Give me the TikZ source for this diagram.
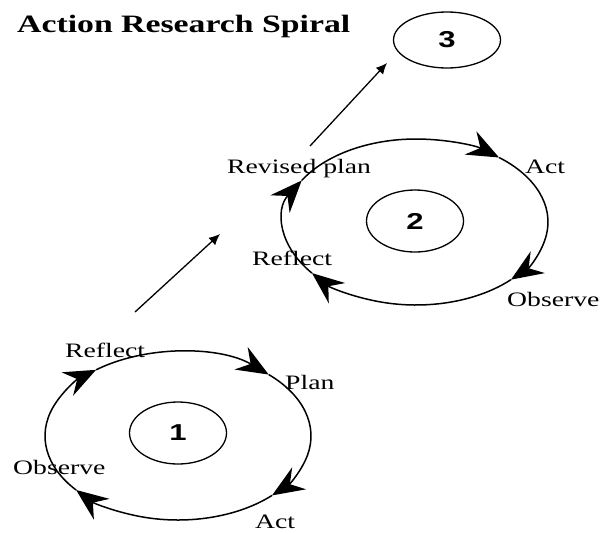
\documentclass[tikz,border=0pt]{standalone}
\usepackage{fontspec}
\usetikzlibrary{shapes.geometric,arrows.meta}
\newfontfamily\labfont{Liberation Serif}[FakeStretch=1.35]
\newfontfamily\digfont{Liberation Sans}[FakeStretch=1.35]
\tikzset{
  lbl/.style={anchor=base west,inner sep=0pt,font=\labfont\fontsize{20.5}{24}\selectfont},
  ttl/.style={anchor=base west,inner sep=0pt,font=\labfont\bfseries\fontsize{25}{30}\selectfont},
  inner/.style={ellipse,draw,line width=1.3pt,inner sep=0pt,minimum width=97pt,minimum height=62pt,font=\digfont\bfseries\fontsize{23}{26}\selectfont},
  cyc/.style={line width=1.5pt,-{Stealth[length=32pt,width=26pt,inset=11pt]}},
  upar/.style={line width=1.3pt,-{Latex[length=11pt,width=10pt]}}
}
\begin{document}
\begin{tikzpicture}[x=1pt,y=1pt]
\useasboundingbox (0,0) rectangle (601,-533);
\fill[white] (0,0) rectangle (601,-533);
% title
\node[ttl] (title) at (17,-32) {Action Research Spiral};
% cycle 1
\coordinate (o1) at (178,-436);
\node[inner] (n1) at (178,-433) {1};
\draw[cyc] (o1) ++(128:133 and 84) arc[start angle=128,end angle=47,x radius=133,y radius=84];
\draw[cyc] (o1) ++(47:133 and 84) arc[start angle=47,end angle=-45,x radius=133,y radius=84];
\draw[cyc] (o1) ++(-45:133 and 84) arc[start angle=-45,end angle=-140,x radius=133,y radius=84];
\draw[cyc] (o1) ++(-140:133 and 84) arc[start angle=-140,end angle=-232,x radius=133,y radius=84];
\node[lbl] (reflect1) at (65,-357) {Reflect};
\node[lbl] (plan1) at (285,-389) {Plan};
\node[lbl] (observe1) at (13,-474) {Observe};
\node[lbl] (act1) at (255,-528) {Act};
% cycle 2
\coordinate (o2) at (416,-222);
\node[inner] (n2) at (415,-221) {2};
\draw[cyc] (o2) ++(150:132 and 83) arc[start angle=150,end angle=51,x radius=132,y radius=83];
\draw[cyc] (o2) ++(51:132 and 83) arc[start angle=51,end angle=-44,x radius=132,y radius=83];
\draw[cyc] (o2) ++(-44:132 and 83) arc[start angle=-44,end angle=-142,x radius=132,y radius=83];
\draw[cyc] (o2) ++(-142:132 and 83) arc[start angle=-142,end angle=-210,x radius=132,y radius=83];
\node[lbl] (revplan) at (227,-173) {Revised plan};
\node[lbl] (act2) at (525,-173) {Act};
\node[lbl] (reflect2) at (252,-265) {Reflect};
\node[lbl] (observe2) at (507,-306) {Observe};
% cycle 3
\node[inner,minimum width=107pt,minimum height=56pt] (n3) at (447,-40) {3};
% progression arrows
\coordinate (a1s) at (135,-312);
\coordinate (a1e) at (220,-234);
\coordinate (a2s) at (310,-146);
\coordinate (a2e) at (387,-63);
\draw[upar] (a1s) -- (a1e);
\draw[upar] (a2s) -- (a2e);
\end{tikzpicture}
\end{document}
